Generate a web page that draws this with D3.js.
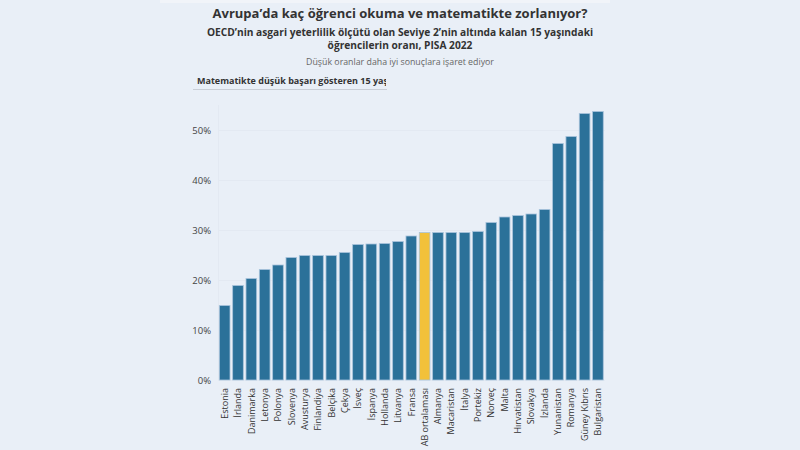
<!DOCTYPE html>
<html>
<head>
<meta charset="utf-8">
<script src="https://cdn.jsdelivr.net/npm/d3@7"></script>
<style>
  body { margin: 0; background: #e9eff7; }
  svg { display: block; font-family: "Open Sans", sans-serif; }
</style>
</head>
<body>
<div class="chart"></div>
<script>
// PISA 2022, share of 15-year-olds below level 2 in maths
var countries = ["Estonia", "İrlanda", "Danimarka", "Letonya", "Polonya", "Slovenya", "Avusturya",
  "Finlandiya", "Belçika", "Çekya", "İsveç", "İspanya", "Hollanda", "Litvanya", "Fransa",
  "AB ortalaması", "Almanya", "Macaristan", "İtalya", "Portekiz", "Norveç", "Malta",
  "Hırvatistan", "Slovakya", "İzlanda", "Yunanistan", "Romanya", "Güney Kıbrıs", "Bulgaristan"];
var values = [14.9, 18.9, 20.3, 22.1, 23.0, 24.5, 24.9, 24.9, 24.9, 25.5, 27.1, 27.2, 27.3, 27.7, 28.8,
  29.5, 29.5, 29.5, 29.5, 29.7, 31.5, 32.6, 32.9, 33.2, 34.1, 47.3, 48.7, 53.3, 53.7];
var yTicks = [0, 10, 20, 30, 40, 50];
var highlight = "AB ortalaması";

var width = 800, height = 450;
var data = countries.map(function(c, i) { return {name: c, value: values[i]}; });

var svg = d3.select(".chart").append("svg").attr("width", width).attr("height", height);

svg.append("rect").attr("width", width).attr("height", height).attr("fill", "#e9eff7");
svg.append("rect").attr("x", 160).attr("width", 450).attr("height", 3).attr("fill", "#f1f4f9");

// titles
svg.append("text").attr("x", 400).attr("y", 18).attr("text-anchor", "middle")
  .attr("font-size", "13px").attr("font-weight", "bold").attr("fill", "#333")
  .text("Avrupa’da kaç öğrenci okuma ve matematikte zorlanıyor?");
svg.append("text").attr("x", 400).attr("y", 36).attr("text-anchor", "middle")
  .attr("font-size", "10.2px").attr("font-weight", "bold").attr("fill", "#333")
  .text("OECD’nin asgari yeterlilik ölçütü olan Seviye 2’nin altında kalan 15 yaşındaki");
svg.append("text").attr("x", 400).attr("y", 49).attr("text-anchor", "middle")
  .attr("font-size", "10.2px").attr("font-weight", "bold").attr("fill", "#333")
  .text("öğrencilerin oranı, PISA 2022");
svg.append("text").attr("x", 400).attr("y", 65).attr("text-anchor", "middle")
  .attr("font-size", "8.8px").attr("fill", "#666")
  .text("Düşük oranlar daha iyi sonuçlara işaret ediyor");

// dropdown-like label
svg.append("defs").append("clipPath").attr("id", "ddclip")
  .append("rect").attr("x", 190).attr("y", 70).attr("width", 196).attr("height", 20);
svg.append("text").attr("x", 197).attr("y", 84).attr("clip-path", "url(#ddclip)")
  .attr("font-size", "9px").attr("font-weight", "bold").attr("fill", "#333")
  .text("Matematikte düşük başarı gösteren 15 yaşındakiler");
svg.append("line").attr("x1", 193).attr("x2", 387).attr("y1", 89.5).attr("y2", 89.5)
  .attr("stroke", "#c9ced6").attr("stroke-width", 1);

var x = d3.scaleBand().domain(countries).range([218, 604.6]).paddingInner(0.2).paddingOuter(0.1);
var y = d3.scaleLinear().domain([0, 55]).range([380, 105]);

// grid
svg.append("g").selectAll("line").data(yTicks).enter().append("line")
  .attr("x1", 218).attr("x2", 605)
  .attr("y1", function(d) { return y(d) + 0.5; }).attr("y2", function(d) { return y(d) + 0.5; })
  .attr("stroke", "#e3e9f2");
svg.append("line").attr("x1", 218.5).attr("x2", 218.5).attr("y1", 105).attr("y2", 380)
  .attr("stroke", "#e3e9f2");

var yAxis = svg.append("g").attr("transform", "translate(218,0)")
  .call(d3.axisLeft(y).tickValues(yTicks).tickSize(0).tickPadding(7)
    .tickFormat(function(d) { return d + "%"; }));
yAxis.select(".domain").remove();
yAxis.selectAll("text").attr("font-size", "9.5px").attr("fill", "#444")
  .attr("font-family", "'Open Sans', sans-serif");

svg.append("g").selectAll(".bar").data(data).enter().append("rect")
  .attr("class", "bar")
  .attr("x", function(d) { return x(d.name); })
  .attr("width", x.bandwidth())
  .attr("y", function(d) { return y(d.value); })
  .attr("height", function(d) { return y(0) - y(d.value); })
  .attr("fill", function(d) { return d.name === highlight ? "#f2c13a" : "#2b7199"; })
  .attr("stroke", "#a9c4dc").attr("stroke-width", 0.8);

var xAxis = svg.append("g").attr("transform", "translate(0,380)")
  .call(d3.axisBottom(x).tickSize(0).tickPadding(0));
xAxis.select(".domain").remove();
xAxis.selectAll("text")
  .attr("font-size", "9px").attr("fill", "#333").attr("font-family", "'Open Sans', sans-serif")
  .attr("text-anchor", "end")
  .attr("transform", "translate(3.2,8) rotate(-90)")
  .attr("dy", 0).attr("y", 0);
</script>
</body>
</html>
